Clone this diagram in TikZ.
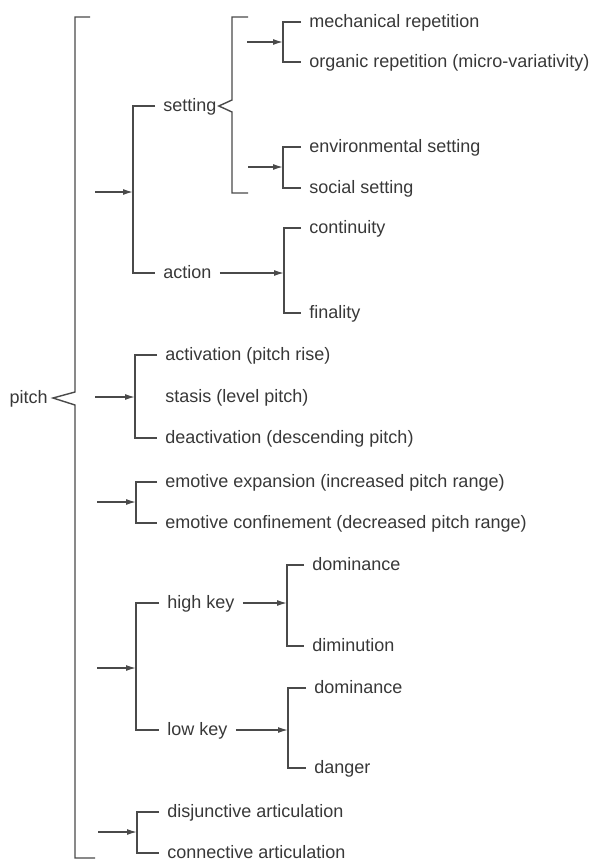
\documentclass[tikz,border=0pt]{standalone}
\usepackage{fontspec}
\setmainfont{Liberation Sans}
\usetikzlibrary{arrows.meta}
\definecolor{ink}{HTML}{383838}
\definecolor{rule}{HTML}{4A4A4A}
\newcommand\fork[3]{\draw[line] (#2.west) -| (#1) |- (#3.west);}

\begin{document}
\begin{tikzpicture}[x=0.5pt,y=-0.5pt,
	line/.style={draw=rule,line width=0.7pt},
	arr/.style={line,-{Latex[length=5pt,width=3pt]}},
	lbl/.style={anchor=west,inner xsep=4pt,inner ysep=0pt,text=ink,
		font=\fontsize{9}{10}\selectfont,text height=0.72em,text depth=0.21em}]
		%%%%% START %%%%%
		
		\useasboundingbox (0,0) rectangle (593,862);
		
		\node[lbl,anchor=east] (pitch) at (56,398) {pitch};
		\draw[line] (90,17) -- (75,17) -- (75,392) -- ([xshift=-1.5pt]pitch.east) -- (75,405) -- (75,858) -- (95,858);
		
		\node[lbl] (setting) at (155,106) {setting};
		\node[lbl] (action) at (155,273) {action};
		\coordinate (a1) at (95,192);
		\coordinate (b1) at (133,192);
		\draw[arr] (a1) -- (b1);
		\fork{b1}{setting}{action}
		\draw[line] (248,17) -- (232,17) -- (232,100) -- ([xshift=-3pt]setting.east) -- (232,112) -- (232,193) -- (248,193);
		
		\node[lbl] (mech) at (301,22) {mechanical repetition};
		\node[lbl] (organic) at (301,62) {organic repetition (micro-variativity)};
		\coordinate (a2) at (247,42);
		\coordinate (b2) at (283,42);
		\draw[arr] (a2) -- (b2);
		\fork{b2}{mech}{organic}
		
		\node[lbl] (env) at (301,147) {environmental setting};
		\node[lbl] (social) at (301,188) {social setting};
		\coordinate (a3) at (248,167);
		\coordinate (b3) at (283,167);
		\draw[arr] (a3) -- (b3);
		\fork{b3}{env}{social}
		
		\node[lbl] (contin) at (301,228) {continuity};
		\node[lbl] (final) at (301,313) {finality};
		\coordinate (b4) at (284,273);
		\draw[arr] (action.east) -- (b4);
		\fork{b4}{contin}{final}
		
		\node[lbl] (activ) at (157,355) {activation (pitch rise)};
		\node[lbl] (stasis) at (157,397) {stasis (level pitch)};
		\node[lbl] (deact) at (157,438) {deactivation (descending pitch)};
		\coordinate (a5) at (95,397);
		\coordinate (b5) at (135,397);
		\draw[arr] (a5) -- (b5);
		\fork{b5}{activ}{deact}
		
		\node[lbl] (expan) at (157,482) {emotive expansion (increased pitch range)};
		\node[lbl] (confin) at (157,523) {emotive confinement (decreased pitch range)};
		\coordinate (a6) at (97,502);
		\coordinate (b6) at (136,502);
		\draw[arr] (a6) -- (b6);
		\fork{b6}{expan}{confin}
		
		\node[lbl] (highkey) at (159,603) {high key};
		\node[lbl] (lowkey) at (159,730) {low key};
		\coordinate (a7) at (97,668);
		\coordinate (b7) at (136,668);
		\draw[arr] (a7) -- (b7);
		\fork{b7}{highkey}{lowkey}
		
		\node[lbl] (domhi) at (304,565) {dominance};
		\node[lbl] (dimin) at (304,646) {diminution};
		\coordinate (b8) at (287,603);
		\draw[arr] (highkey.east) -- (b8);
		\fork{b8}{domhi}{dimin}
		
		\node[lbl] (domlo) at (306,688) {dominance};
		\node[lbl] (danger) at (306,768) {danger};
		\coordinate (b9) at (288,730);
		\draw[arr] (lowkey.east) -- (b9);
		\fork{b9}{domlo}{danger}
		
		\node[lbl] (disj) at (159,812) {disjunctive articulation};
		\node[lbl] (conn) at (159,853) {connective articulation};
		\coordinate (a10) at (98,832);
		\coordinate (b10) at (137,832);
		\draw[arr] (a10) -- (b10);
		\fork{b10}{disj}{conn}
		
		%%%%% END %%%%%
	\end{tikzpicture}
\end{document}
